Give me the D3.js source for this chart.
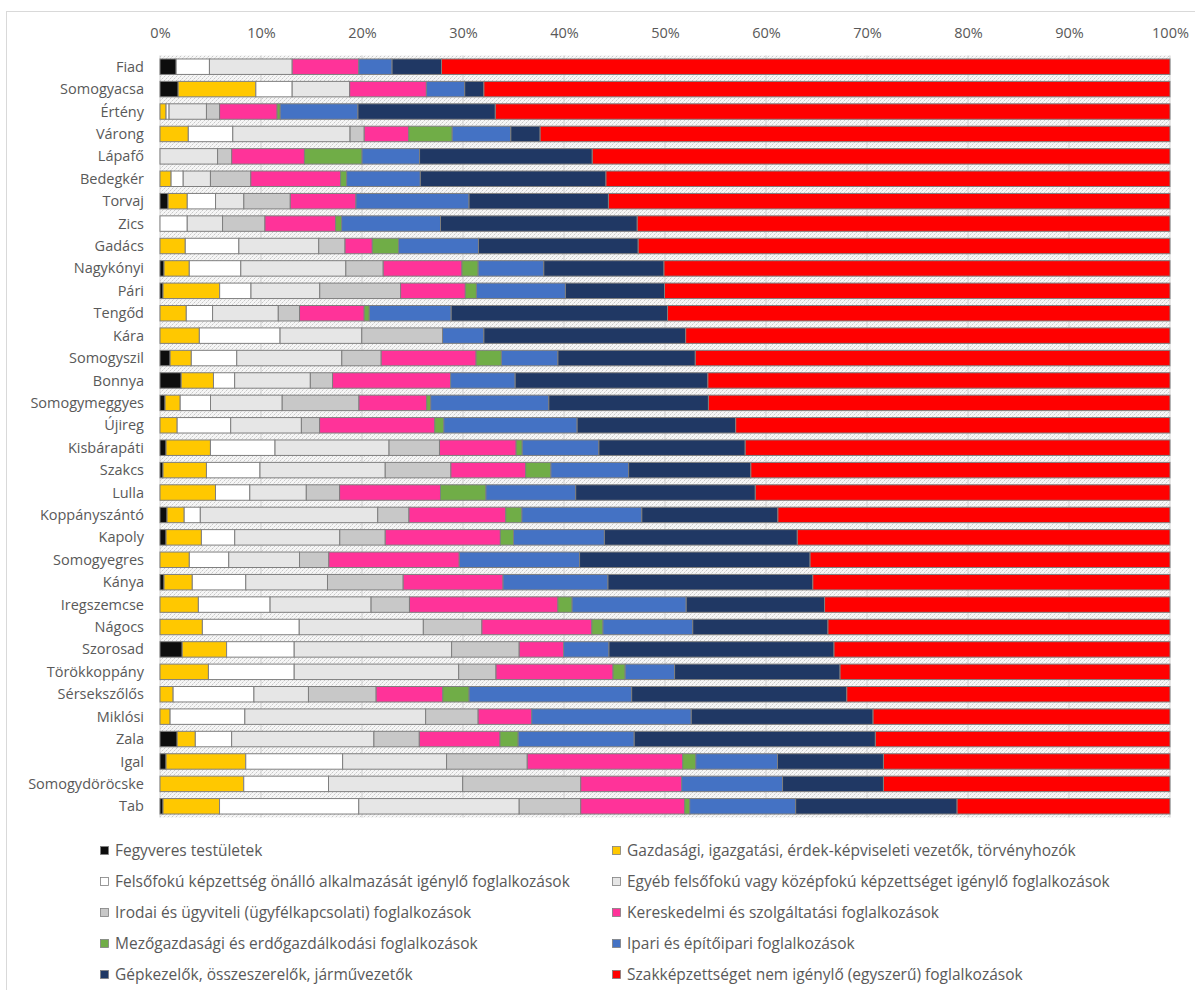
<!DOCTYPE html>
<html>
<head>
<meta charset="utf-8">
<script src="https://cdn.jsdelivr.net/npm/d3@7"></script>
<style>
  body { margin: 0; background: #fff; }
  text { font-family: "Open Sans", "Noto Sans", sans-serif; fill: #595959; }
</style>
</head>
<body>
<svg id="chart" width="1195" height="990"></svg>
<script>
// települések, fentről lefelé
let towns = ['Fiad','Somogyacsa','Értény','Várong','Lápafő','Bedegkér','Torvaj','Zics','Gadács','Nagykónyi',
  'Pári','Tengőd','Kára','Somogyszil','Bonnya','Somogymeggyes','Újireg','Kisbárapáti','Szakcs','Lulla',
  'Koppányszántó','Kapoly','Somogyegres','Kánya','Iregszemcse','Nágocs','Szorosad','Törökkoppány','Sérsekszőlős','Miklósi',
  'Zala','Igal','Somogydöröcske','Tab']

let seriesNames = [
  'Fegyveres testületek',
  'Gazdasági, igazgatási, érdek-képviseleti vezetők, törvényhozók',
  'Felsőfokú képzettség önálló alkalmazását igénylő foglalkozások',
  'Egyéb felsőfokú vagy középfokú képzettséget igénylő foglalkozások',
  'Irodai és ügyviteli (ügyfélkapcsolati) foglalkozások',
  'Kereskedelmi és szolgáltatási foglalkozások',
  'Mezőgazdasági és erdőgazdálkodási foglalkozások',
  'Ipari és építőipari foglalkozások',
  'Gépkezelők, összeszerelők, járművezetők',
  'Szakképzettséget nem igénylő (egyszerű) foglalkozások'
]
let colors = ['#0d0d0d','#ffc800','#ffffff','#e6e6e6','#c8c8c8','#ff3399','#70ad47','#4472c4','#203864','#ff0000']

// százalékos értékek, sorrend = towns
let fegyveres = [1.6,1.8,0,0,0,0,0.8,0,0,0.4, 0.3,0,0,1.0,2.1,0.5,0,0.6,0.3,0, 0.7,0.6,0,0.4,0,0,2.2,0,0,0, 1.7,0.6,0,0.3]
let vezetok   = [0,7.7,0.6,2.8,0,1.1,1.9,0,2.5,2.5, 5.6,2.6,3.9,2.1,3.2,1.5,1.7,4.4,4.3,5.5, 1.7,3.5,2.9,2.8,3.8,4.2,4.4,4.8,1.3,1.0, 1.8,7.9,8.3,5.6]
let felsofoku = [3.3,3.6,0.3,4.4,0,1.2,2.8,2.7,5.3,5.1, 3.1,2.6,8.0,4.5,2.1,3.0,5.3,6.4,5.3,3.4, 1.6,3.3,3.9,5.3,7.1,9.6,6.7,8.5,8.0,7.4, 3.6,9.6,8.4,13.8]
let egyeb     = [8.2,5.7,3.7,11.6,5.7,2.7,2.8,3.5,7.9,10.4, 6.8,6.5,8.1,10.4,7.5,7.1,7.0,11.3,12.4,5.6, 17.6,10.4,7.0,8.1,10.0,12.3,15.6,16.3,5.4,17.9, 14.1,10.3,13.3,15.9]
let irodai    = [0,0,1.3,1.4,1.4,4.0,4.6,4.2,2.6,3.7, 8.0,2.1,8.0,3.9,2.2,7.6,1.8,5.0,6.5,3.3, 3.1,4.5,2.9,7.5,3.8,5.8,6.7,3.7,6.7,5.2, 4.5,8.0,11.7,6.1]
let keresk    = [6.6,7.6,5.7,4.4,7.2,8.9,6.5,7.0,2.7,7.8, 6.4,6.4,0,9.4,11.7,6.7,11.4,7.6,7.4,10.0, 9.6,11.4,12.9,9.9,14.7,10.9,4.4,11.6,6.6,5.3, 8.0,15.4,10.0,10.3]
let mezo      = [0,0,0.3,4.3,5.7,0.6,0,0.6,2.6,1.6, 1.1,0.5,0,2.5,0,0.4,0.9,0.6,2.5,4.5, 1.6,1.3,0,0,1.4,1.1,0,1.2,2.6,0, 1.8,1.3,0,0.5]
let ipari     = [3.3,3.8,7.7,5.8,5.7,7.3,11.2,9.8,7.9,6.5, 8.8,8.1,4.1,5.6,6.4,11.7,13.2,7.6,7.7,8.9, 11.9,9.0,11.9,10.4,11.3,8.9,4.5,4.9,16.1,15.8, 11.5,8.1,10.0,10.5]
let gepkez    = [4.9,1.9,13.6,2.9,17.1,18.4,13.8,19.5,15.8,11.9, 9.8,21.4,20.0,13.6,19.1,15.8,15.7,14.5,12.1,17.8, 13.5,19.1,22.8,20.3,13.7,13.4,22.3,16.4,21.3,18.0, 23.9,10.5,10.0,16.0]
let egyszeru  = [72.2,68.0,66.8,62.3,57.2,55.9,55.6,52.8,52.6,50.1, 50.0,49.7,48.0,47.0,45.8,45.7,43.0,42.1,41.5,41.1, 38.9,36.9,35.6,35.4,34.2,33.9,33.3,32.7,32.0,29.4, 29.2,28.4,28.4,21.1]

let tickLabels = ['0%','10%','20%','30%','40%','50%','60%','70%','80%','90%','100%']

let allSeries = [fegyveres, vezetok, felsofoku, egyeb, irodai, keresk, mezo, ipari, gepkez, egyszeru]

// sorok összerakása a stackhez
let rows = towns.map((t, i) => {
    let r = {town: t}
    allSeries.forEach((s, k) => { r[k] = s[i] })
    return r
})

let svg = d3.select('#chart')

// külső keret
svg.append('rect')
    .attr('x', 6.5).attr('y', 11.5)
    .attr('width', 1200).attr('height', 1000)
    .attr('fill', 'none').attr('stroke', '#d9d9d9')

let plotLeft = 160, plotRight = 1170, plotTop = 55.5, plotBottom = 817.5

let x = d3.scaleLinear().domain([0, 1]).range([plotLeft, plotRight])
let y = d3.scaleBand().domain(towns).range([plotTop, plotBottom]).paddingInner(0.31).paddingOuter(0.155)

// mintás háttér (pöttyözött)
let defs = svg.append('defs')
let pat = defs.append('pattern')
    .attr('id', 'dots')
    .attr('width', 4).attr('height', 4)
    .attr('patternUnits', 'userSpaceOnUse')
pat.append('rect').attr('width', 4).attr('height', 4).attr('fill', '#f6f6f6')
pat.append('rect').attr('x', 0).attr('y', 0).attr('width', 1).attr('height', 1).attr('fill', '#c8c8c8')
pat.append('rect').attr('x', 2).attr('y', 2).attr('width', 1).attr('height', 1).attr('fill', '#c8c8c8')
pat.append('rect').attr('x', 1).attr('y', 3).attr('width', 1).attr('height', 1).attr('fill', '#e0e0e0')
pat.append('rect').attr('x', 3).attr('y', 1).attr('width', 1).attr('height', 1).attr('fill', '#e0e0e0')

svg.append('rect')
    .attr('x', plotLeft).attr('y', plotTop)
    .attr('width', plotRight - plotLeft).attr('height', plotBottom - plotTop)
    .attr('fill', 'url(#dots)')

// rácsvonalak
svg.append('g')
    .selectAll('line').data(d3.range(0, 1.01, 0.1))
    .enter().append('line')
    .attr('x1', d => x(d)).attr('x2', d => x(d))
    .attr('y1', plotTop).attr('y2', plotBottom)
    .attr('stroke', '#d0d0d0')

// tengely felül
let axis = svg.append('g')
    .attr('transform', `translate(0,${plotTop})`)
    .call(d3.axisTop(x).tickValues(d3.range(0, 1.01, 0.1)).tickFormat((d, i) => tickLabels[i]).tickSize(0).tickPadding(18))
axis.select('.domain').remove()
axis.selectAll('text')
    .style('font-family', '"Open Sans", "Noto Sans", sans-serif')
    .style('font-size', '14.5px')
    .attr('fill', '#595959')

// kategória címkék
svg.append('g')
    .selectAll('text').data(towns)
    .enter().append('text')
    .attr('x', 144)
    .attr('y', d => y(d) + y.bandwidth() / 2)
    .attr('dy', '0.35em')
    .attr('text-anchor', 'end')
    .style('font-size', '14.5px')
    .text(d => d)

// oszlopok
let stack = d3.stack().keys(d3.range(10)).offset(d3.stackOffsetExpand)
let layers = stack(rows)

svg.append('g')
    .selectAll('g').data(layers)
    .enter().append('g')
    .attr('fill', (d, i) => colors[i])
    .selectAll('rect').data(d => d.filter(p => p[1] - p[0] > 0))
    .enter().append('rect')
    .attr('x', d => x(d[0]))
    .attr('y', d => y(d.data.town))
    .attr('width', d => x(d[1]) - x(d[0]))
    .attr('height', y.bandwidth())
    .attr('stroke', '#7f7f7f')
    .attr('stroke-width', 1)

// jelmagyarázat, két oszlopban
let legend = svg.append('g')
    .selectAll('g').data(seriesNames)
    .enter().append('g')
    .attr('transform', (d, i) => `translate(${i % 2 == 0 ? 100 : 612},${851 + Math.floor(i / 2) * 31})`)

legend.append('rect')
    .attr('x', 0.5).attr('y', -4.5)
    .attr('width', 8).attr('height', 8)
    .attr('fill', (d, i) => colors[i])
    .attr('stroke', '#7f7f7f')
    .attr('stroke-width', 0.8)

legend.append('text')
    .attr('x', 15)
    .attr('y', 0)
    .attr('dy', '0.35em')
    .style('font-size', '15.5px')
    .text(d => d)
</script>
</body>
</html>
